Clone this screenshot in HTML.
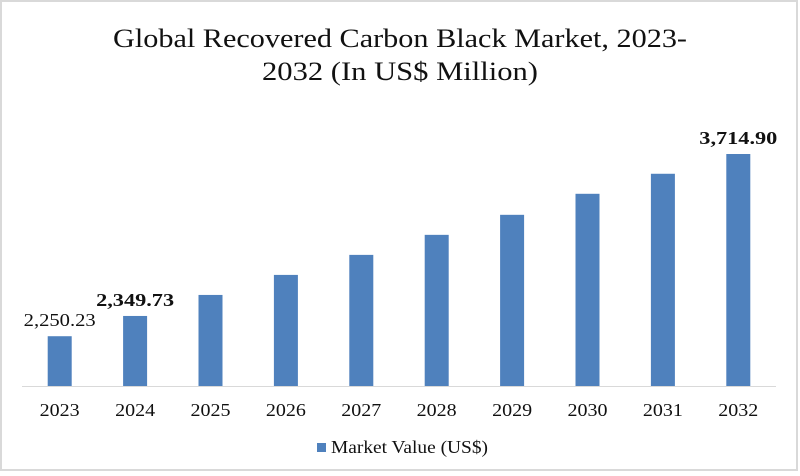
<!DOCTYPE html>
<html><head><meta charset="utf-8"><style>
body{margin:0;background:#fff;}
svg{display:block;font-family:"Liberation Serif",serif;}
</style></head><body>
<svg id="chart" width="800" height="476">
<rect x="1" y="1" width="796" height="469" fill="#fff" stroke="#d9d9d9" stroke-width="2"/>
<text x="400" y="47" text-anchor="middle" font-size="26" fill="#111" textLength="574" lengthAdjust="spacingAndGlyphs">Global Recovered Carbon Black Market, 2023-</text>
<text x="400" y="80" text-anchor="middle" font-size="26" fill="#111" textLength="276" lengthAdjust="spacingAndGlyphs">2032 (In US$ Million)</text>
<line x1="22" y1="386.5" x2="776" y2="386.5" stroke="#d9d9d9" stroke-width="1"/>
<g id="bars"></g>
<rect x="317" y="443" width="9" height="9" fill="#4f81bd"/>
<text x="331" y="453" font-size="18" fill="#111" textLength="157" lengthAdjust="spacingAndGlyphs">Market Value (US$)</text>
</svg>
<script>
const categories=["2023","2024","2025","2026","2027","2028","2029","2030","2031","2032"];
const values=[2250.23,2413,2582,2743,2904,3065,3226,3395,3556,3714.9];
const labelTexts=["2,250.23","2,349.73","","","","","","","","3,714.90"];
const labelBold=[false,true,false,false,false,false,false,false,false,true];
const yMin=1850, yMax=3714.9;
const plotLeft=22, plotRight=776, baseY=386, topY=154;
const band=(plotRight-plotLeft)/categories.length;
function xScale(i){return plotLeft+band*(i+0.5);}
function yScale(v){return baseY-(v-yMin)/(yMax-yMin)*(baseY-topY);}
const NS="http://www.w3.org/2000/svg";
const g=document.getElementById('bars');
categories.forEach((c,i)=>{
  const cx=xScale(i), y=yScale(values[i]);
  const r=document.createElementNS(NS,'rect');
  r.setAttribute('x',cx-12);r.setAttribute('y',y);
  r.setAttribute('width',24);r.setAttribute('height',baseY-y);
  r.setAttribute('fill','#4f81bd');
  
  
  g.appendChild(r);
  const t=document.createElementNS(NS,'text');
  t.setAttribute('x',cx);t.setAttribute('y',416);
  t.setAttribute('text-anchor','middle');t.setAttribute('font-size','18');t.setAttribute('fill','#111');
  t.setAttribute('textLength','40');t.setAttribute('lengthAdjust','spacingAndGlyphs');
  t.textContent=c;
  
  
  g.appendChild(t);
  if(labelTexts[i]){
    const l=document.createElementNS(NS,'text');
    l.setAttribute('x',cx);l.setAttribute('y',y-10);
    l.setAttribute('text-anchor','middle');l.setAttribute('font-size','18');l.setAttribute('fill','#111');
    if(labelBold[i]) l.setAttribute('font-weight','bold');
    l.setAttribute('textLength',labelBold[i]?'78':'72');l.setAttribute('lengthAdjust','spacingAndGlyphs');
    l.textContent=labelTexts[i];
    
    
    g.appendChild(l);
  }
});
</script>
</body></html>
